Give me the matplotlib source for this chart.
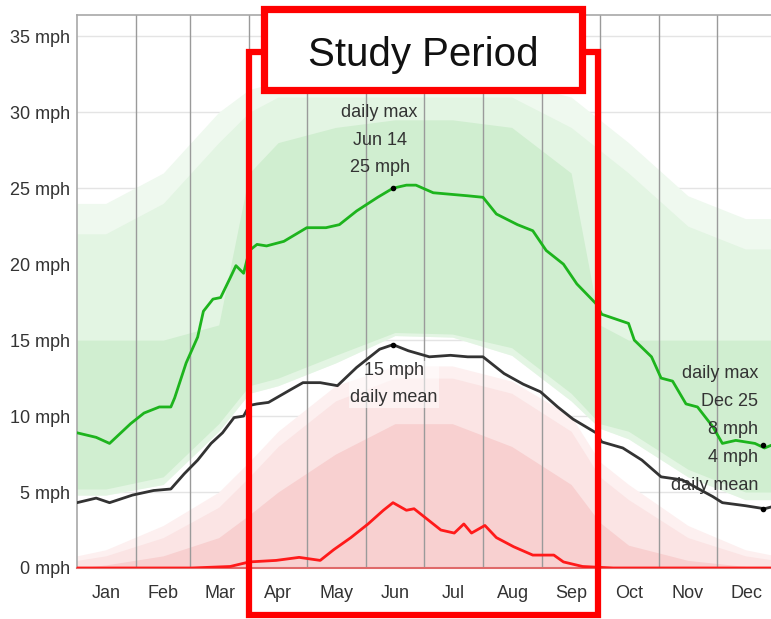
import matplotlib
matplotlib.use("Agg")
import matplotlib.pyplot as plt
from matplotlib.patches import Rectangle

# ---------------- data ----------------
month_labels = ["Jan", "Feb", "Mar", "Apr", "May", "Jun", "Jul", "Aug", "Sep", "Oct", "Nov", "Dec"]
month_starts = [0, 31, 59, 90, 120, 151, 181, 212, 243, 273, 304, 334, 365]
y_ticks = [0, 5, 10, 15, 20, 25, 30, 35]
y_tick_labels = ["0 mph", "5 mph", "10 mph", "15 mph", "20 mph", "25 mph", "30 mph", "35 mph"]

max_days = [0, 10, 17, 28, 35, 43, 49, 51, 57, 63, 66, 71, 75, 80, 83, 87, 90, 94, 99, 108,
            120, 130, 137, 146, 157, 165, 172, 177, 186, 195, 204, 212, 219, 230, 238, 245,
            254, 261, 271, 274, 288, 291, 300, 305, 311, 318, 324, 332, 337, 344, 354, 359, 365]
max_vals = [8.9, 8.6, 8.2, 9.5, 10.2, 10.6, 10.6, 11.2, 13.5, 15.2, 16.9, 17.7, 17.8, 19.1, 19.9,
            19.4, 20.9, 21.3, 21.2, 21.5, 22.4, 22.4, 22.6, 23.5, 24.4, 25.0, 25.2, 25.2, 24.7,
            24.6, 24.5, 24.4, 23.3, 22.6, 22.2, 20.9, 20.0, 18.7, 17.4, 16.7, 16.1, 15.0, 13.9,
            12.5, 12.3, 10.8, 10.6, 9.3, 8.2, 8.4, 8.2, 7.9, 8.2]

mean_days = [0, 10, 17, 29, 40, 49, 56, 63, 70, 76, 82, 87, 90, 94, 100, 111, 118, 127, 136,
             146, 158, 165, 173, 184, 195, 204, 212, 223, 233, 242, 251, 259, 271, 274, 285,
             295, 305, 316, 332, 337, 349, 359, 365]
mean_vals = [4.3, 4.6, 4.3, 4.8, 5.1, 5.2, 6.2, 7.1, 8.2, 8.9, 9.9, 10.0, 10.7, 10.8, 10.9,
             11.7, 12.2, 12.2, 12.0, 13.2, 14.4, 14.7, 14.3, 13.9, 14.0, 13.9, 13.9, 12.8,
             12.1, 11.6, 10.6, 9.8, 8.9, 8.3, 7.9, 7.1, 6.0, 5.8, 4.7, 4.3, 4.1, 3.9, 4.1]

min_days = [0, 60, 80, 90, 104, 116, 127, 134, 143, 152, 160, 165, 172, 176, 183, 190, 197,
            202, 206, 213, 219, 228, 238, 249, 254, 264, 280, 365]
min_vals = [0, 0, 0.1, 0.4, 0.5, 0.7, 0.5, 1.2, 2.0, 2.9, 3.8, 4.3, 3.8, 3.9, 3.2, 2.5, 2.3,
            2.9, 2.3, 2.8, 2.0, 1.4, 0.85, 0.85, 0.4, 0.1, 0, 0]

band_days = [0, 15, 45, 74, 90, 105, 135, 166, 196, 227, 258, 273, 288, 319, 349, 365]
green_fade_hi = [24, 24, 26, 30, 31.5, 32, 32, 32, 32, 32, 31, 29.5, 28, 24.5, 23, 23]
green_outer_hi = [22, 22, 24, 28, 30, 31, 31, 31, 31, 31, 29, 27.5, 26, 22.5, 21, 21]
green_outer_lo = [4.8, 4.8, 5.5, 9, 11.5, 12, 13.5, 15.3, 15.2, 14, 11, 9.2, 8.5, 6, 4.5, 4.5]
green_inner_hi = [15, 15, 15, 16, 26, 28, 29, 29.5, 29.5, 29, 26, 16, 15, 15, 15, 15]
green_inner_lo = [5.2, 5.2, 6, 9.5, 12, 12.5, 14, 15.5, 15.4, 14.5, 11.5, 9.5, 9, 6.5, 5, 5]
red_fade_hi = [0.8, 1.2, 2.8, 5, 7, 9, 12, 13.3, 13.3, 12.3, 10, 7, 5.5, 2.8, 1.2, 0.8]
red_outer_hi = [0.5, 0.8, 2, 4, 6, 8, 11, 12.5, 12.5, 11.5, 9, 6, 4.5, 2, 0.8, 0.5]
red_inner_hi = [0, 0.2, 0.8, 2, 3.5, 5, 7.5, 9.5, 9.5, 8, 5.5, 3, 1.5, 0.5, 0.1, 0]

# ---------------- figure ----------------
plt.rcParams["font.family"] = ["Liberation Sans", "DejaVu Sans"]

W, H = 771, 619
fig = plt.figure(figsize=(W / 100, H / 100), dpi=100)
fig.patch.set_facecolor("white")

ax_left, ax_right, ax_top, ax_bottom = 77, 776, 15, 568
ax = fig.add_axes([ax_left / W, (H - ax_bottom) / H,
                   (ax_right - ax_left) / W, (ax_bottom - ax_top) / H])
ax.set_xlim(0, 365)
ax.set_ylim(0, 36.4)

# faint horizontal grid
for yv in y_ticks[1:]:
    ax.axhline(yv, color="#e4e4e4", lw=1, zorder=0)

# bands
ax.fill_between(band_days, green_outer_lo, green_fade_hi, color="#eff9ef", lw=0, zorder=1)
ax.fill_between(band_days, green_outer_lo, green_outer_hi, color="#e3f5e3", lw=0, zorder=1)
ax.fill_between(band_days, green_inner_lo, green_inner_hi, color="#d0eed0", lw=0, zorder=1)
ax.fill_between(band_days, 0, red_fade_hi, color="#fdf0f0", lw=0, zorder=1)
ax.fill_between(band_days, 0, red_outer_hi, color="#fbe4e4", lw=0, zorder=1)
ax.fill_between(band_days, 0, red_inner_hi, color="#f8d0d0", lw=0, zorder=1)

# month grid
for d in month_starts[1:-1]:
    ax.axvline(d, color="#9a9a9a", lw=1, zorder=2)

# lines
ax.plot(max_days, max_vals, color="#1db41d", lw=2.0, zorder=4)
ax.plot(mean_days, mean_vals, color="#333333", lw=2.0, zorder=4)
ax.plot(min_days, min_vals, color="#ff1a1a", lw=2.0, zorder=4)

# markers
ax.plot([165, 358], [25.0, 8.1], "o", color="black", ms=3, zorder=5)
ax.plot([165, 358], [14.7, 3.9], "o", color="black", ms=3, zorder=5)

# annotations
txtc = "#333333"
ax.text(158, 28.15, "daily max\nJun 14\n25 mph", ha="center", va="center",
        fontsize=13, color=txtc, linespacing=1.8, zorder=6)
ax.text(165.5, 12.1, "15 mph\ndaily mean", ha="center", va="center",
        fontsize=13, color=txtc, linespacing=1.8, zorder=3.5,
        bbox=dict(facecolor="white", edgecolor="none", alpha=0.55, pad=1))
ax.text(355.6, 9.1, "daily max\nDec 25\n8 mph\n4 mph\ndaily mean", ha="right", va="center",
        fontsize=13, color=txtc, linespacing=1.85, multialignment="right", zorder=6)

# ticks
ax.set_yticks(y_ticks)
ax.set_yticklabels(y_tick_labels, fontsize=13, color=txtc)
centers = [(month_starts[i] + month_starts[i + 1]) / 2 for i in range(12)]
ax.set_xticks(centers)
ax.set_xticklabels(month_labels, fontsize=13, color=txtc)
ax.tick_params(axis="both", length=0)
ax.tick_params(axis="y", pad=5)
ax.tick_params(axis="x", pad=12)

for s in ["top", "left"]:
    ax.spines[s].set_color("#a8a8a8")
    ax.spines[s].set_linewidth(1.2)
ax.spines["right"].set_visible(False)
ax.spines["bottom"].set_color("#e06a6a")
ax.spines["bottom"].set_linewidth(1.5)


def px_rect(x0, y0, x1, y1, **kw):
    return Rectangle((x0 / W, (H - y1) / H), (x1 - x0) / W, (y1 - y0) / H,
                     transform=fig.transFigure, **kw)


# study period box
fig.add_artist(px_rect(248.5, 51.5, 597.5, 615, fill=False, edgecolor="#ff0000",
                       lw=4.5, zorder=10))
fig.add_artist(px_rect(263.5, 8.5, 581.5, 89.5, facecolor="white", edgecolor="#ff0000",
                       lw=5.2, zorder=11))
fig.text(423 / W, (H - 66) / H, "Study Period", ha="center", va="baseline",
         fontsize=29, color="#111111", zorder=12)

fig.savefig("out.png", dpi=100)
